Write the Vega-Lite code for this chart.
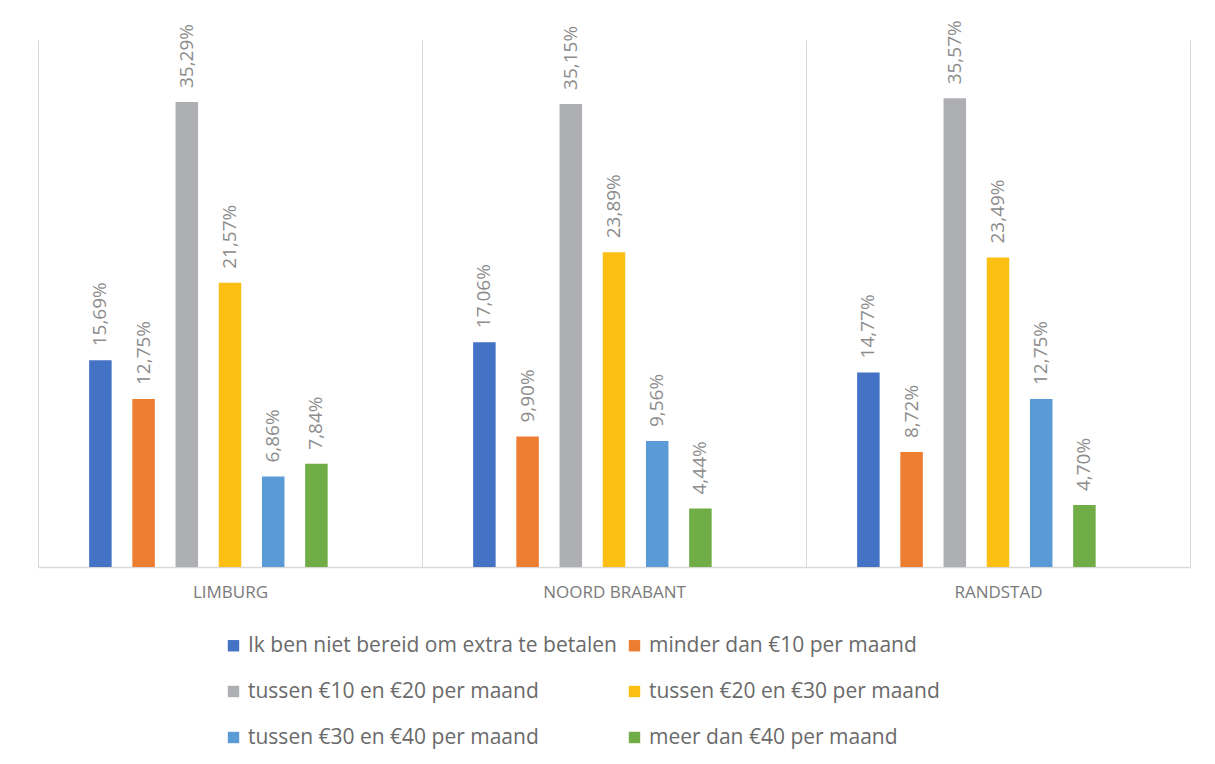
{
  "$schema": "https://vega.github.io/schema/vega-lite/v6.json",
  "width": 1152,
  "height": 527,
  "autosize": {"type": "none"},
  "padding": {"left": 38, "top": 40, "right": 25, "bottom": 197},
  "background": "white",
  "config": {
    "view": {"stroke": null},
    "locale": {"number": {"decimal": ",", "thousands": ".", "grouping": [3], "currency": ["€", ""]}},
    "font": "Open Sans"
  },
  "data": {
    "values": [
      {"regio": "LIMBURG", "antwoord": "Ik ben niet bereid om extra te betalen", "aandeel": 0.1569},
      {"regio": "LIMBURG", "antwoord": "minder dan €10 per maand", "aandeel": 0.1275},
      {"regio": "LIMBURG", "antwoord": "tussen €10 en €20 per maand", "aandeel": 0.3529},
      {"regio": "LIMBURG", "antwoord": "tussen €20 en €30 per maand", "aandeel": 0.2157},
      {"regio": "LIMBURG", "antwoord": "tussen €30 en €40 per maand", "aandeel": 0.0686},
      {"regio": "LIMBURG", "antwoord": "meer dan €40 per maand", "aandeel": 0.0784},
      {"regio": "NOORD BRABANT", "antwoord": "Ik ben niet bereid om extra te betalen", "aandeel": 0.1706},
      {"regio": "NOORD BRABANT", "antwoord": "minder dan €10 per maand", "aandeel": 0.099},
      {"regio": "NOORD BRABANT", "antwoord": "tussen €10 en €20 per maand", "aandeel": 0.3515},
      {"regio": "NOORD BRABANT", "antwoord": "tussen €20 en €30 per maand", "aandeel": 0.2389},
      {"regio": "NOORD BRABANT", "antwoord": "tussen €30 en €40 per maand", "aandeel": 0.0956},
      {"regio": "NOORD BRABANT", "antwoord": "meer dan €40 per maand", "aandeel": 0.0444},
      {"regio": "RANDSTAD", "antwoord": "Ik ben niet bereid om extra te betalen", "aandeel": 0.1477},
      {"regio": "RANDSTAD", "antwoord": "minder dan €10 per maand", "aandeel": 0.0872},
      {"regio": "RANDSTAD", "antwoord": "tussen €10 en €20 per maand", "aandeel": 0.3557},
      {"regio": "RANDSTAD", "antwoord": "tussen €20 en €30 per maand", "aandeel": 0.2349},
      {"regio": "RANDSTAD", "antwoord": "tussen €30 en €40 per maand", "aandeel": 0.1275},
      {"regio": "RANDSTAD", "antwoord": "meer dan €40 per maand", "aandeel": 0.047}
    ]
  },
  "encoding": {
    "x": {
      "field": "regio",
      "type": "nominal",
      "sort": null,
      "scale": {"paddingInner": 0, "paddingOuter": 0},
      "axis": {
        "title": null,
        "labelAngle": 0,
        "ticks": false,
        "grid": true,
        "gridColor": "#d9d9d9",
        "gridWidth": 1,
        "tickBand": "extent",
        "domainColor": "#d9d9d9",
        "domainWidth": 1.5,
        "labelFont": "Open Sans",
        "labelFontSize": 17,
        "labelColor": "#7a7a7a",
        "labelPadding": 17
      }
    },
    "xOffset": {
      "field": "antwoord",
      "type": "nominal",
      "scale": {
        "domain": [
          "Ik ben niet bereid om extra te betalen",
          "minder dan €10 per maand",
          "tussen €10 en €20 per maand",
          "tussen €20 en €30 per maand",
          "tussen €30 en €40 per maand",
          "meer dan €40 per maand",
          "leeg"
        ],
        "paddingInner": 0,
        "paddingOuter": 0.944
      }
    },
    "y": {
      "field": "aandeel",
      "type": "quantitative",
      "scale": {"domain": [0, 0.4], "nice": false},
      "axis": null
    }
  },
  "layer": [
    {
      "mark": {"type": "bar", "width": 22.5},
      "encoding": {
        "color": {
          "field": "antwoord",
          "type": "nominal",
          "scale": {
            "domain": [
              "Ik ben niet bereid om extra te betalen",
              "tussen €10 en €20 per maand",
              "tussen €30 en €40 per maand",
              "minder dan €10 per maand",
              "tussen €20 en €30 per maand",
              "meer dan €40 per maand"
            ],
            "range": ["#4472C4", "#AEAFB2", "#5B9BD5", "#ED7D31", "#FCC015", "#70AD47"]
          },
          "legend": {
            "title": null,
            "orient": "none",
            "legendX": 185,
            "legendY": 595,
            "columns": 2,
            "columnPadding": 7,
            "rowPadding": 24,
            "symbolType": "square",
            "symbolSize": 130,
            "symbolStrokeWidth": 0,
            "labelFont": "Open Sans",
            "labelFontSize": 21,
            "labelColor": "#6a6a6a",
            "labelLimit": 500,
            "labelOffset": 4
          }
        }
      }
    },
    {
      "mark": {
        "type": "text",
        "angle": 270,
        "align": "left",
        "baseline": "middle",
        "dx": 14,
        "font": "Open Sans",
        "fontSize": 19,
        "color": "#8c8c8c"
      },
      "encoding": {
        "text": {"field": "aandeel", "type": "quantitative", "format": ".2%"}
      }
    }
  ]
}
